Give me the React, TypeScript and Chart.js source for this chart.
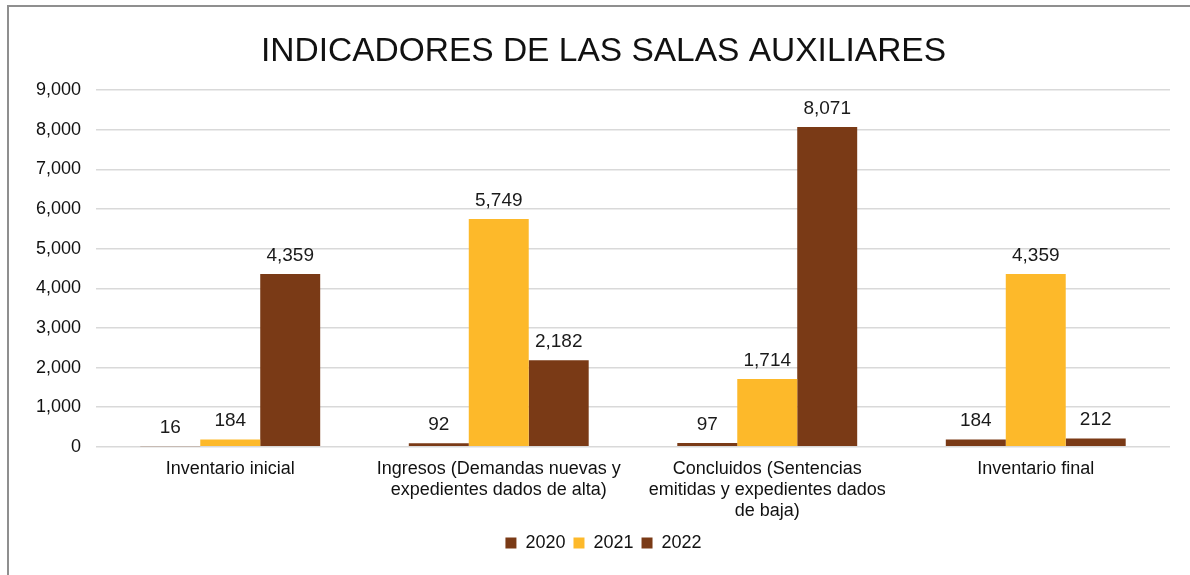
import React, { useEffect, useRef } from "react";
import { Chart, registerables } from "chart.js";

Chart.register(...registerables);

const categories: (string | string[])[] = [
  "Inventario inicial",
  ["Ingresos (Demandas nuevas y", "expedientes dados de alta)"],
  ["Concluidos (Sentencias", "emitidas y expedientes dados", "de baja)"],
  "Inventario final",
];
const series2020 = [16, 92, 97, 184];
const series2021 = [184, 5749, 1714, 4359];
const series2022 = [4359, 2182, 8071, 212];
const seriesLabels = ["2020", "2021", "2022"];
const yTicks = [0, 1000, 2000, 3000, 4000, 5000, 6000, 7000, 8000, 9000];

const FONT = "'Liberation Sans', Arial, sans-serif";
const BROWN = "#7A3A16";
const YELLOW = "#FDB92A";

const valueLabels = {
  id: "valueLabels",
  afterDatasetsDraw(chart: any) {
    const ctx = chart.ctx;
    ctx.save();
    ctx.font = `19px ${FONT}`;
    ctx.fillStyle = "#1a1a1a";
    ctx.textAlign = "center";
    ctx.textBaseline = "bottom";
    chart.data.datasets.forEach((ds: any, i: number) => {
      const meta = chart.getDatasetMeta(i);
      meta.data.forEach((bar: any, j: number) => {
        const v = ds.data[j];
        ctx.fillText(v.toLocaleString("en-US"), bar.x, bar.y - 9);
      });
    });
    ctx.restore();
  },
};

// shift title and legend slightly right, as in the reference
const shiftBoxes = {
  id: "shiftBoxes",
  afterLayout(chart: any) {
    const dx = 14;
    if (chart.titleBlock) {
      chart.titleBlock.left += dx;
      chart.titleBlock.right += dx;
    }
    if (chart.legend) {
      chart.legend.left += dx;
      chart.legend.right += dx;
    }
  },
};

export default function App() {
  const ref = useRef<HTMLCanvasElement>(null);
  useEffect(() => {
    document.body.style.overflow = "hidden";
    const chart = new Chart(ref.current!, {
      type: "bar",
      data: {
        labels: categories,
        datasets: [
          { label: seriesLabels[0], data: series2020, backgroundColor: BROWN },
          { label: seriesLabels[1], data: series2021, backgroundColor: YELLOW },
          { label: seriesLabels[2], data: series2022, backgroundColor: BROWN },
        ],
      },
      options: {
        animation: false,
        responsive: false,
        maintainAspectRatio: false,
        layout: { padding: { left: 0, right: 20, top: 0, bottom: 13 } },
        datasets: { bar: { categoryPercentage: 0.67, barPercentage: 1 } },
        plugins: {
          title: {
            display: true,
            text: "INDICADORES DE LAS SALAS AUXILIARES",
            color: "#111",
            font: { family: FONT, size: 33.5, weight: "normal" },
            padding: { top: 25, bottom: 18 },
          },
          legend: {
            position: "bottom",
            labels: {
              color: "#111",
              font: { family: FONT, size: 18 },
              boxWidth: 11,
              boxHeight: 11,
              padding: 8,
            },
          },
          tooltip: { enabled: false },
        },
        scales: {
          x: {
            grid: { display: false },
            border: { display: false },
            ticks: {
              color: "#111",
              font: { family: FONT, size: 18, lineHeight: 1.17 },
              maxRotation: 0,
              autoSkip: false,
              padding: 4,
            },
          },
          y: {
            min: 0,
            max: 9000,
            afterBuildTicks(axis: any) {
              axis.ticks = yTicks.map((v) => ({ value: v }));
            },
            afterFit(axis: any) {
              axis.width = 87;
            },
            grid: { color: "#d9d9d9", lineWidth: 1.5, drawTicks: false },
            border: { display: false },
            ticks: {
              color: "#111",
              font: { family: FONT, size: 18 },
              padding: 15,
              callback: (v: any) => Number(v).toLocaleString("en-US"),
            },
          },
        },
      },
      plugins: [valueLabels, shiftBoxes],
    });
    return () => chart.destroy();
  }, []);
  return (
    <div
      style={{
        position: "absolute",
        left: 7,
        top: 5,
        width: 1210,
        height: 620,
        border: "2px solid #8f8f8f",
        background: "#fff",
      }}
    >
      <canvas ref={ref} width={1181} height={568} style={{ display: "block" }} />
    </div>
  );
}
